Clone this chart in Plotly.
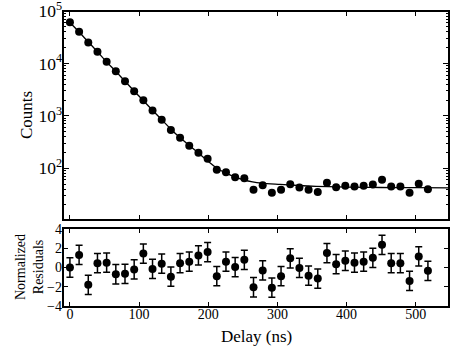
import plotly.graph_objects as go

# delays (ns) of the 40 measured points
delay = [round(i * 13.27, 2) for i in range(40)]

# log10(counts)
log_counts = [4.784, 4.604, 4.401, 4.221, 4.030, 3.852, 3.660, 3.469, 3.297, 3.100,
              2.927, 2.729, 2.583, 2.430, 2.296, 2.181, 1.970, 1.924, 1.829, 1.810,
              1.588, 1.676, 1.530, 1.588, 1.695, 1.632, 1.588, 1.545, 1.722, 1.637,
              1.664, 1.651, 1.664, 1.689, 1.779, 1.651, 1.651, 1.530, 1.703, 1.599]
counts = [10 ** v for v in log_counts]

# fit curve
fit_t = [0, 13.3, 26.5, 39.8, 53, 66.4, 79.6, 93, 106, 119.4, 132.7, 146, 159, 172.5,
         185.8, 199, 212, 225, 238, 251, 264, 277, 304, 330, 356, 400, 450, 500, 548]
fit_log = [4.78, 4.598, 4.41, 4.222, 4.03, 3.848, 3.66, 3.47, 3.292, 3.105, 2.925, 2.745,
           2.585, 2.435, 2.29, 2.14, 2.005, 1.91, 1.835, 1.78, 1.74, 1.715, 1.69, 1.67,
           1.655, 1.64, 1.632, 1.628, 1.626]
fit_counts = [10 ** v for v in fit_log]

# normalized residuals
residuals = [0.0, 1.3, -1.8, 0.45, 0.5, -0.7, -0.65, -0.2, 1.45, -0.15,
             0.4, -0.95, 0.45, 0.6, 1.25, 1.6, -0.9, 0.6, 0.05, 0.8,
             -2.05, -0.3, -2.1, -0.9, 0.95, -0.05, -0.85, -1.15, 1.5, 0.35,
             0.7, 0.5, 0.6, 1.0, 2.35, 0.45, 0.45, -1.4, 1.15, -0.35]
res_err = [1.0] * len(residuals)

x_ticks = [0, 100, 200, 300, 400, 500]
res_ticks = [-4, -2, 0, 2, 4]

FONT = "Liberation Serif"
W, H = 463, 348
ML, MR, MT, MB = 63, 14, 11, 41
PW, PH = W - ML - MR, H - MT - MB


def px(x):
    return (x - ML) / PW


def py(y):
    return (H - MB - y) / PH


fig = go.Figure()
fig.add_trace(go.Scatter(x=fit_t, y=fit_counts, mode="lines",
                         line=dict(color="black", width=1.3, shape="spline"),
                         xaxis="x", yaxis="y", showlegend=False))
fig.add_trace(go.Scatter(x=delay, y=counts, mode="markers", marker=dict(color="black", size=8),
                         xaxis="x", yaxis="y", showlegend=False))
fig.add_trace(go.Scatter(x=delay, y=residuals, mode="markers", marker=dict(color="black", size=8),
                         error_y=dict(type="data", array=res_err, color="black", thickness=1.5, width=3.5),
                         xaxis="x2", yaxis="y2", showlegend=False))
# empty traces so the top/right tick axes get drawn
fig.add_trace(go.Scatter(x=[], y=[], xaxis="x3", yaxis="y3", showlegend=False, hoverinfo="skip"))
fig.add_trace(go.Scatter(x=[], y=[], xaxis="x4", yaxis="y4", showlegend=False, hoverinfo="skip"))

axis_common = dict(showline=False, ticks="inside", tickcolor="black", tickwidth=1.2,
                   showgrid=False, zeroline=False, automargin=False,
                   ticklabeloverflow="allow",
                   tickfont=dict(family=FONT, size=14, color="black"))
minor_log = dict(ticks="inside", ticklen=3, tickcolor="black", showgrid=False)

top_y = [py(220), 1]
bot_y = [0, py(228)]

fig.update_layout(
    width=W, height=H,
    margin=dict(l=ML, r=MR, t=MT, b=MB, autoexpand=False),
    paper_bgcolor="white", plot_bgcolor="white",
    font=dict(family=FONT, color="black"),
    xaxis=dict(domain=[0, 1], range=[-10, 548], anchor="y", showticklabels=False,
               tickvals=x_ticks, ticklen=5, **axis_common),
    yaxis=dict(domain=top_y, type="log", range=[1.012, 5], anchor="x", dtick=1,
               exponentformat="power", ticklen=6, minor=minor_log, **axis_common),
    xaxis2=dict(domain=[0, 1], range=[-10, 548], anchor="y2", ticklabelstandoff=-3,
                tickvals=x_ticks, ticklen=5, **axis_common),
    yaxis2=dict(domain=bot_y, range=[-4.1, 4.1], anchor="x2",
                tickvals=res_ticks, ticklen=5, **axis_common),
    # mirrored ticks on top / right of each panel
    xaxis3=dict(overlaying="x", side="top", anchor="y", range=[-10, 548], showticklabels=False,
                tickvals=x_ticks, ticklen=5, **axis_common),
    yaxis3=dict(overlaying="y", side="right", anchor="x", type="log", range=[1.012, 5], dtick=1,
                showticklabels=False, ticklen=6, minor=minor_log, **axis_common),
    xaxis4=dict(overlaying="x2", side="top", anchor="y2", range=[-10, 548], showticklabels=False,
                tickvals=x_ticks, ticklen=5, **axis_common),
    yaxis4=dict(overlaying="y2", side="right", anchor="x2", range=[-4.1, 4.1],
                showticklabels=False, tickvals=res_ticks, ticklen=5, **axis_common),
)

# frames around both panels
for xr, yr in [("x domain", "y domain"), ("x2 domain", "y2 domain")]:
    fig.add_shape(type="rect", xref=xr, yref=yr, x0=0, x1=1, y0=0, y1=1,
                  line=dict(color="black", width=2), layer="above")

fig.add_annotation(text="Counts", x=px(27), y=py(115), xref="paper", yref="paper",
                   xanchor="center", yanchor="middle",
                   textangle=-90, showarrow=False, font=dict(family=FONT, size=17))
fig.add_annotation(text="Delay (ns)", x=px(256), y=py(336), xref="paper", yref="paper",
                   xanchor="center", yanchor="middle",
                   showarrow=False, font=dict(family=FONT, size=17))
fig.add_annotation(text="Normalized<br>Residuals", x=px(29), y=py(267), xref="paper", yref="paper",
                   xanchor="center", yanchor="middle",
                   textangle=-90, showarrow=False, font=dict(family=FONT, size=14))

fig.write_html("out.html", config={"displayModeBar": False},
               post_script="document.body.style.margin='0';document.body.style.overflow='hidden';")
